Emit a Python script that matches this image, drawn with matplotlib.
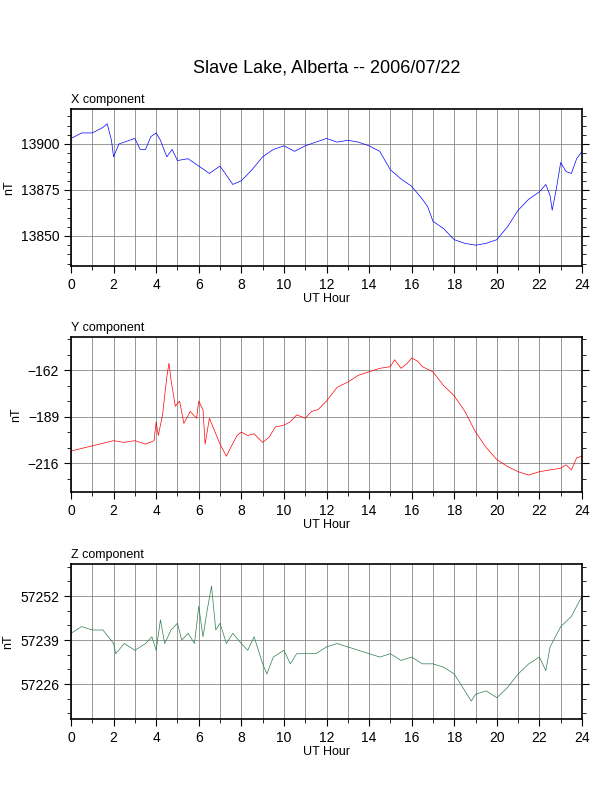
import matplotlib
matplotlib.use("Agg")
import matplotlib.pyplot as plt
from matplotlib.ticker import MultipleLocator

plt.rcParams['font.family'] = ['Liberation Sans', 'DejaVu Sans']

x_hours = [0,0.5,1,1.5,1.7,1.9,2.0,2.25,2.5,3,3.25,3.5,3.75,4.0,4.2,4.5,4.75,5.0,5.5,6,6.5,7,7.3,7.6,8,8.5,9,9.5,10,10.5,11,11.5,12,12.5,13,13.5,14,14.5,15,15.5,16,16.5,16.75,17,17.5,18,18.5,19,19.5,20,20.5,21,21.5,22,22.3,22.5,22.6,22.8,23,23.25,23.5,23.75,24]
x_vals = [13903,13906,13906,13909,13911,13902,13893,13900,13901,13903,13897,13897,13904,13906,13902,13893,13897,13891,13892,13888,13884,13888,13883,13878,13880,13886,13893,13897,13899,13896,13899,13901,13903,13901,13902,13901,13899,13896,13886,13881,13877,13870,13866,13858,13854,13848,13846,13845,13846,13848,13855,13864,13870,13874,13878,13872,13864,13876,13890,13885,13884,13892,13896]

y_hours = [0,1,2,2.5,3,3.5,3.9,4.0,4.1,4.3,4.5,4.6,4.7,4.9,5.1,5.3,5.6,5.9,6.0,6.2,6.3,6.5,6.7,7.0,7.3,7.5,7.8,8.0,8.3,8.6,9.0,9.3,9.6,10,10.3,10.6,11,11.3,11.6,12,12.5,13,13.5,14,14.5,15,15.2,15.5,15.8,16,16.3,16.5,17,17.5,18,18.5,19,19.5,20,20.5,21,21.5,22,22.5,23,23.25,23.5,23.75,24]
y_vals = [-209,-206,-203,-204,-203,-205,-203,-192,-200,-188,-166,-158,-168,-183,-180,-193,-186,-190,-180,-185,-205,-190,-196,-205,-212,-207,-200,-198,-200,-199,-204,-201,-195,-194,-192,-188,-190,-186,-185,-180,-172,-169,-165,-163,-161,-160,-156,-161,-158,-155,-157,-160,-163,-171,-177,-186,-198,-207,-214,-218,-221,-223,-221,-220,-219,-217,-220,-213,-212]

z_hours = [0,0.5,1,1.5,2.0,2.1,2.5,3,3.5,3.8,4.0,4.2,4.4,4.7,5.0,5.2,5.5,5.8,6.0,6.2,6.4,6.6,6.8,7.0,7.3,7.6,8.0,8.3,8.6,9.0,9.2,9.5,10,10.3,10.6,11,11.5,12,12.5,13,13.5,14,14.5,15,15.5,16,16.5,17,17.5,18,18.5,18.8,19,19.5,20,20.5,21,21.5,22,22.3,22.5,23,23.5,24]
z_vals = [57241,57243,57242,57242,57238,57235,57238,57236,57238,57240,57236,57245,57238,57242,57244,57239,57241,57238,57249,57240,57248,57255,57242,57244,57238,57241,57238,57236,57240,57232,57229,57234,57236,57232,57235,57235,57235,57237,57238,57237,57236,57235,57234,57235,57233,57234,57232,57232,57231,57229,57224,57221,57223,57224,57222,57225,57229,57232,57234,57230,57237,57243,57246,57252]

panels = [
    ("X component", x_hours, x_vals, "blue", [13850, 13875, 13900], (13833.7, 13919), 5),
    ("Y component", y_hours, y_vals, "red", [-216, -189, -162], (-232.8, -142.8), 9),
    ("Z component", z_hours, z_vals, "#2e7d4f", [57226, 57239, 57252], (57215.7, 57261.5), 13/3),
]

fig = plt.figure(figsize=(6.12, 7.92), dpi=100)
W, H = 612, 792
tops = [109, 337, 564]
bottoms = [266, 492, 719]
fig.text(0.5*(71+582)/W, 1-68/H, "Slave Lake, Alberta -- 2006/07/22", ha='center', va='center', fontsize=13)
for (label, hx, vals, col, yt, ylim, ymin), t, b in zip(panels, tops, bottoms):
    ax = fig.add_axes([71/W, 1-b/H, (582-71)/W, (b-t)/H])
    ax.plot(hx, vals, color=col, lw=0.5)
    ax.set_xlim(0, 24)
    ax.set_ylim(*ylim)
    ax.set_xticks(range(0, 25, 2))
    ax.xaxis.set_minor_locator(MultipleLocator(1))
    ax.set_yticks(yt)
    ax.yaxis.set_minor_locator(MultipleLocator(ymin))
    ax.grid(True, which='both', axis='x', color='#888888', lw=0.6)
    ax.grid(True, which='major', axis='y', color='#888888', lw=0.6)
    ax.tick_params(which='both', direction='out', top=False, right=True, labelsize=10)
    ax.tick_params(which='major', length=5)
    ax.tick_params(which='minor', length=3)
    for s in ax.spines.values():
        s.set_linewidth(1.2)
    ax.set_xlabel("UT Hour", fontsize=9, labelpad=1)
    ax.set_ylabel("nT", fontsize=9)
    ax.text(0.0, 1.02, label, transform=ax.transAxes, fontsize=9, ha='left', va='bottom')

fig.savefig("out.png", dpi=100)
